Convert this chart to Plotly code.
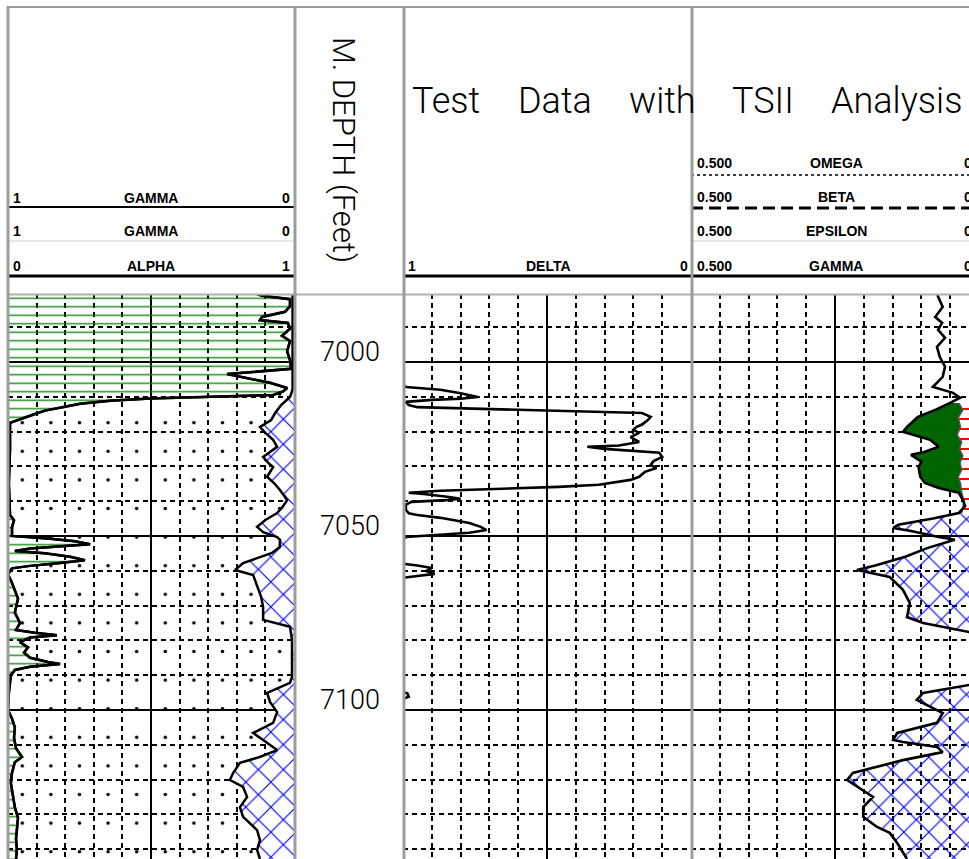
import plotly.graph_objects as go

W, H = 969, 859

depth_range = [6980.5, 7142.8]
depth_ticks = [7000, 7050, 7100]

# Track 1 : GAMMA (scale 1 -> 0, left to right)
gamma1_depth = [6980.5, 6981.0, 6982.0, 6984.0, 6985.6, 6987.1, 6988.0, 6988.8, 6990.5, 6992.5,
                6994.0, 6997.0, 6999.5, 7002.0, 7003.5, 7004.2, 7006.0, 7007.5, 7008.5, 7009.5,
                7010.0, 7010.5, 7011.2, 7012.0, 7012.9, 7014.0, 7015.2, 7016.5, 7017.5, 7025.0,
                7035.0, 7044.0, 7045.5, 7047.5, 7050.0, 7050.8, 7051.5, 7052.4, 7053.0, 7053.6,
                7054.3, 7055.0, 7056.0, 7057.0, 7057.8, 7058.6, 7059.3, 7061.0, 7063.5, 7065.0,
                7068.0, 7072.0, 7075.0, 7077.0, 7077.8, 7078.5, 7079.2, 7080.5, 7082.0, 7083.5,
                7085.0, 7086.2, 7086.8, 7087.6, 7088.5, 7090.0, 7095.0, 7100.0, 7102.5, 7105.0,
                7108.0, 7111.0, 7113.5, 7115.0, 7118.0, 7121.0, 7125.0, 7128.0, 7131.0, 7134.0,
                7137.0, 7140.0, 7142.8]
gamma1 = [0.129, 0.112, 0.014, 0.014, 0.031, 0.112, 0.119, 0.021, 0.014, 0.042,
          0.014, 0.024, 0.014, 0.010, 0.234, 0.189, 0.084, 0.024, 0.038, 0.073,
          0.329, 0.503, 0.643, 0.748, 0.801, 0.871, 0.913, 0.958, 0.993, 0.993,
          0.997, 0.993, 0.979, 0.986, 0.986, 0.853, 0.766, 0.713, 0.818, 0.923,
          0.976, 0.871, 0.783, 0.731, 0.818, 0.923, 0.986, 1.000, 0.986, 0.979,
          0.965, 0.976, 0.958, 0.972, 0.906, 0.829, 0.923, 0.958, 0.930, 0.944,
          0.923, 0.860, 0.818, 0.923, 0.976, 0.990, 0.997, 1.000, 0.986, 0.976,
          0.979, 0.972, 0.951, 0.976, 0.986, 0.990, 0.983, 0.976, 0.965, 0.969,
          0.972, 0.969, 0.972]

# Track 1 : ALPHA (scale 0 -> 1, left to right)
alpha1_depth = [6980.5, 7008.0, 7010.1, 7012.4, 7014.7, 7016.7, 7018.7, 7020.4, 7022.4, 7024.4,
                7027.3, 7029.0, 7030.2, 7033.0, 7034.8, 7036.8, 7039.7, 7041.7, 7043.4, 7045.4,
                7047.4, 7048.9, 7050.3, 7051.1, 7053.2, 7054.9, 7057.8, 7059.8, 7061.2, 7064.7,
                7067.5, 7070.4, 7074.1, 7076.1, 7079.9, 7085.6, 7090.5, 7092.2, 7095.1, 7097.7,
                7100.6, 7103.7, 7106.6, 7108.6, 7111.5, 7113.5, 7115.2, 7118.1, 7120.1, 7122.1,
                7125.0, 7127.9, 7130.7, 7134.5, 7137.4, 7140.2, 7142.8]
alpha1 = [0.995, 0.995, 0.986, 0.955, 0.934, 0.920, 0.881, 0.900, 0.927, 0.941,
          0.892, 0.910, 0.927, 0.906, 0.930, 0.951, 0.976, 0.960, 0.941, 0.900,
          0.871, 0.892, 0.941, 0.951, 0.950, 0.923, 0.822, 0.794, 0.857, 0.874,
          0.885, 0.892, 0.892, 0.986, 0.993, 0.993, 0.993, 0.986, 0.906, 0.916,
          0.941, 0.927, 0.857, 0.892, 0.941, 0.880, 0.811, 0.787, 0.776, 0.822,
          0.836, 0.811, 0.822, 0.871, 0.881, 0.871, 0.881]

# Track 3 : DELTA (scale 1 -> 0)
delta_depth = [6980.5, 7006.5, 7007.2, 7008.0, 7009.0, 7010.1, 7010.6, 7010.9, 7011.5, 7012.4,
               7013.0, 7013.8, 7014.3, 7014.7, 7015.8, 7016.7, 7018.0, 7018.7, 7019.5, 7020.4,
               7021.6, 7023.0, 7024.0, 7024.4, 7025.0, 7025.3, 7026.1, 7027.3, 7028.5, 7029.6,
               7030.5, 7031.6, 7033.0, 7033.9, 7035.3, 7035.9, 7036.5, 7037.0, 7037.6, 7038.0,
               7038.8, 7039.3, 7039.7, 7040.2, 7041.0, 7042.5, 7043.5, 7044.0, 7044.8, 7045.5,
               7046.3, 7047.4, 7048.3, 7049.1, 7049.7, 7050.3, 7051.0, 7058.0, 7058.5, 7059.2,
               7060.1, 7060.9, 7061.5, 7062.0, 7094.8, 7095.2, 7096.2, 7096.8, 7142.8]
delta = [1.00, 1.00, 0.99, 0.87, 0.80, 0.74, 0.80, 0.90, 0.99, 0.98,
         0.95, 0.58, 0.40, 0.17, 0.14, 0.15, 0.17, 0.19, 0.20, 0.18,
         0.21, 0.18, 0.25, 0.36, 0.30, 0.25, 0.11, 0.10, 0.13, 0.14,
         0.12, 0.16, 0.18, 0.21, 0.32, 0.46, 0.66, 0.87, 0.98, 0.92,
         0.84, 0.80, 0.85, 0.97, 0.99, 0.99, 0.98, 0.95, 0.87, 0.82,
         0.77, 0.73, 0.71, 0.77, 0.90, 0.99, 1.00, 1.00, 0.95, 0.90,
         0.92, 0.89, 0.95, 1.00, 1.00, 0.985, 0.98, 1.00, 1.00]

# Track 4 : GAMMA (scale 0.500 -> 0)
gamma4_depth = [6980.5, 6981.3, 6984.2, 6987.1, 6988.8, 6990.8, 6993.1, 6995.7, 6998.6, 7001.4,
                7004.3, 7007.2, 7008.9, 7010.3, 7011.8, 7013.8, 7015.8, 7018.7, 7020.1, 7022.4,
                7024.4, 7025.9, 7026.7, 7028.7, 7030.2, 7033.0, 7034.8, 7036.2, 7037.6, 7039.7,
                7041.4, 7043.4, 7045.0, 7046.8, 7047.7, 7048.5, 7050.3, 7051.1, 7053.5, 7056.0,
                7058.5, 7059.8, 7061.8, 7065.5, 7069.3, 7073.3, 7075.0, 7077.6, 7079.9, 7091.4,
                7092.8, 7095.1, 7097.1, 7099.1, 7100.9, 7103.7, 7106.6, 7108.6, 7109.2, 7110.6,
                7112.1, 7114.4, 7118.1, 7120.1, 7123.0, 7125.0, 7127.9, 7130.7, 7133.6, 7135.3,
                7138.2, 7141.1, 7142.8]
gamma4 = [0.072, 0.071, 0.063, 0.076, 0.064, 0.071, 0.059, 0.073, 0.068, 0.059,
          0.063, 0.080, 0.045, 0.033, 0.050, 0.076, 0.106, 0.125, 0.132, 0.085,
          0.070, 0.095, 0.118, 0.100, 0.105, 0.102, 0.094, 0.070, 0.035, 0.028,
          0.024, 0.035, 0.080, 0.140, 0.149, 0.120, 0.070, 0.042, 0.090, 0.128,
          0.180, 0.212, 0.155, 0.132, 0.120, 0.125, 0.097, 0.017, 0.006, 0.006,
          0.017, 0.097, 0.108, 0.085, 0.063, 0.073, 0.142, 0.149, 0.132, 0.073,
          0.063, 0.132, 0.219, 0.229, 0.201, 0.184, 0.201, 0.201, 0.177, 0.155,
          0.142, 0.132, 0.125]

# Track 4 : EPSILON (scale 0.500 -> 0), visible only in the green interval
epsilon4_depth = [7011.8, 7013.8, 7016.0, 7018.7, 7021.0, 7023.0, 7025.0, 7027.0, 7029.0, 7031.0,
                  7033.0, 7035.0, 7037.6, 7040.0, 7043.4]
epsilon4 = [0.035, 0.028, 0.036, 0.032, 0.038, 0.030, 0.034, 0.028, 0.033, 0.030,
            0.036, 0.032, 0.030, 0.026, 0.030]

green_zone = [7011.8, 7043.4]
hatch_zone = [7043.4, 7142.8]

# ---------------- helpers ----------------
def px(x):
    return x / W


def py(y):
    return 1 - y / H


BLACK = "black"
GRAYB = "#9c9c9c"
NONE = "rgba(0,0,0,0)"
HATCH = dict(shape="x", fgcolor="#0000ff", fgopacity=1, size=17.7, solidity=0.13)

fig = go.Figure()

# ---------- Track 1 ----------
fig.add_trace(go.Scatter(x=[1, 1], y=depth_range, mode="lines", line=dict(width=0),
                         xaxis="x", yaxis="y", hoverinfo="skip", showlegend=False))
fig.add_trace(go.Scatter(x=gamma1, y=gamma1_depth, mode="lines", xaxis="x", yaxis="y",
                         line=dict(color=BLACK, width=2.5), fill="tonextx", fillcolor=NONE,
                         fillpattern=dict(shape="-", fgcolor="#008000", fgopacity=0.85,
                                          bgcolor=NONE, size=8.5, solidity=0.18),
                         hoverinfo="skip", showlegend=False))
alpha_pos = [1 - a for a in alpha1]
fig.add_trace(go.Scatter(x=alpha_pos, y=alpha1_depth, mode="lines", xaxis="x", yaxis="y",
                         line=dict(width=0), fill="tonextx", fillcolor=NONE,
                         fillpattern=dict(shape=".", fgcolor=BLACK, fgopacity=1, bgcolor=NONE,
                                          size=28.6, solidity=0.012),
                         hoverinfo="skip", showlegend=False))
fig.add_trace(go.Scatter(x=alpha_pos, y=alpha1_depth, mode="lines", xaxis="x", yaxis="y",
                         line=dict(color=BLACK, width=2.5), fill="tozerox", fillcolor=NONE,
                         fillpattern=dict(bgcolor="white", **HATCH),
                         hoverinfo="skip", showlegend=False))
# redraw gamma line on top
fig.add_trace(go.Scatter(x=gamma1, y=gamma1_depth, mode="lines", xaxis="x", yaxis="y",
                         line=dict(color=BLACK, width=2.5), hoverinfo="skip", showlegend=False))

# ---------- Track 3 ----------
fig.add_trace(go.Scatter(x=delta, y=delta_depth, mode="lines", xaxis="x2", yaxis="y2",
                         line=dict(color=BLACK, width=2.6), hoverinfo="skip", showlegend=False))

# ---------- Track 4 ----------
fig.add_trace(go.Scatter(x=epsilon4, y=epsilon4_depth, mode="lines", xaxis="x3", yaxis="y3",
                         line=dict(color="#555555", width=1.5), fill="tozerox", fillcolor=NONE,
                         fillpattern=dict(shape="-", fgcolor="#ff0000", fgopacity=1,
                                          bgcolor="white", size=10, solidity=0.2),
                         hoverinfo="skip", showlegend=False))
gz = [(d, v) for d, v in zip(gamma4_depth, gamma4) if green_zone[0] <= d <= green_zone[1]]
fig.add_trace(go.Scatter(x=[v for _, v in gz], y=[d for d, _ in gz], mode="lines",
                         xaxis="x3", yaxis="y3", line=dict(width=0), fill="tonextx",
                         fillcolor="#006400", hoverinfo="skip", showlegend=False))
hz = [(d, v) for d, v in zip(gamma4_depth, gamma4) if hatch_zone[0] <= d <= hatch_zone[1]]
fig.add_trace(go.Scatter(x=[v for _, v in hz], y=[d for d, _ in hz], mode="lines",
                         xaxis="x3", yaxis="y3", line=dict(width=0), fill="tozerox",
                         fillcolor=NONE, fillpattern=dict(bgcolor=NONE, **HATCH),
                         hoverinfo="skip", showlegend=False))
fig.add_trace(go.Scatter(x=gamma4, y=gamma4_depth, mode="lines", xaxis="x3", yaxis="y3",
                         line=dict(color=BLACK, width=2.6), hoverinfo="skip", showlegend=False))

# ---------------- axes ----------------
ydom = [0, py(294)]


def xaxis_cfg(domain, rng, major, minor_vals, anchor):
    return dict(domain=domain, range=rng, anchor=anchor, showticklabels=False, ticks="",
                zeroline=False, showline=False, tickmode="array", tickvals=major,
                showgrid=True, gridcolor=BLACK, gridwidth=2,
                minor=dict(tickmode="array", tickvals=minor_vals, showgrid=True,
                           gridcolor=BLACK, gridwidth=1.7, griddash="5px,4px", ticks=""),
                fixedrange=True)


def yaxis_cfg(anchor, matches=None):
    d = dict(domain=ydom, range=[depth_range[1], depth_range[0]], anchor=anchor,
             showticklabels=False, ticks="", zeroline=False, showline=False,
             tickmode="linear", tick0=7000, dtick=50, showgrid=True, gridcolor=BLACK,
             gridwidth=2,
             minor=dict(tickmode="linear", tick0=7000, dtick=10, showgrid=True,
                        gridcolor=BLACK, gridwidth=1.7, griddash="5px,4px", ticks=""),
             fixedrange=True)
    if matches:
        d["matches"] = matches
    return d


t1_minor = [0.1, 0.2, 0.3, 0.4, 0.6, 0.7, 0.8, 0.9]
t4_minor = [0.05, 0.1, 0.15, 0.2, 0.3, 0.35, 0.4, 0.45]
t4_right = 0.5 - 0.5 * (W - 691) / 288.0

fig.update_layout(
    width=W, height=H, margin=dict(l=0, r=0, t=0, b=0),
    paper_bgcolor="white", plot_bgcolor="white", showlegend=False,
    xaxis=xaxis_cfg([px(8), px(294)], [1, 0], [0.5], t1_minor, "y"),
    yaxis=yaxis_cfg("x"),
    xaxis2=xaxis_cfg([px(403), px(691)], [1, 0], [0.5], t1_minor, "y2"),
    yaxis2=yaxis_cfg("x2", "y"),
    xaxis3=xaxis_cfg([px(691), 1.0], [0.5, t4_right], [0.25], t4_minor, "y3"),
    yaxis3=yaxis_cfg("x3", "y"),
)

# ---------------- shapes (header lines & borders) ----------------
shapes = []


def hline(x0, x1, y, color, width, dash="solid"):
    shapes.append(dict(type="line", xref="paper", yref="paper", x0=px(x0), x1=px(x1),
                       y0=py(y), y1=py(y), line=dict(color=color, width=width, dash=dash),
                       layer="above"))


def vline(x, y0, y1, color, width):
    shapes.append(dict(type="line", xref="paper", yref="paper", x0=px(x), x1=px(x),
                       y0=py(y0), y1=py(y1), line=dict(color=color, width=width),
                       layer="above"))


# track 1 header lines
hline(8, 294, 207, BLACK, 2)
hline(8, 294, 241, "#cfcfcf", 1.2)
hline(8, 294, 276, BLACK, 3)
# track 3 header line
hline(403, 691, 276, BLACK, 3)
# track 4 header lines
hline(691, W, 175, BLACK, 1.5, "dot")
hline(691, W, 208, BLACK, 3, "12px,6px")
hline(691, W, 241, "#cfcfcf", 1.2)
hline(691, W, 276, BLACK, 3)
# borders
hline(7, W, 7, GRAYB, 2)
hline(7, W, 294.5, "#b0b0b0", 2)
for xb in [8, 295, 404, 692]:
    vline(xb, 6, H, GRAYB, 3)

fig.update_layout(shapes=shapes)

# ---------------- annotations ----------------
ann = []
LBL = dict(family="Liberation Sans, Arial, sans-serif", size=14, color=BLACK, weight="bold")


def label(x, y, text, anchor, font=LBL):
    ann.append(dict(x=px(x), y=py(y), xref="paper", yref="paper", text=text, showarrow=False,
                    xanchor=anchor, yanchor="middle", font=font))


# track 1 header
for yrow, lo, name, hi in [(198, "1", "GAMMA", "0"), (231, "1", "GAMMA", "0"),
                           (266, "0", "ALPHA", "1")]:
    label(11, yrow, lo, "left")
    label(151, yrow, name, "center")
    label(292, yrow, hi, "right")
# track 3 header
label(406, 266, "1", "left")
label(548, 266, "DELTA", "center")
label(690, 266, "0", "right")
# track 4 header (right-hand "0" labels are clipped by the page edge, as in the source)
for yrow, name in [(163, "OMEGA"), (197, "BETA"), (231, "EPSILON"), (266, "GAMMA")]:
    label(695, yrow, "0.500", "left")
    label(836, yrow, name, "center")
    label(962, yrow, "0", "left")

TITLE = dict(family="Roboto, Liberation Sans, sans-serif", size=36, color=BLACK, weight=300)
for xc, word in [(446, "Test"), (555, "Data"), (662, "with"), (763, "TSII"), (896, "Analysis")]:
    label(xc, 101, word, "center", TITLE)

# depth track title (rotated)
ann.append(dict(x=px(344), y=py(150), xref="paper", yref="paper", text="M. DEPTH (Feet)",
                showarrow=False, textangle=90, xanchor="center", yanchor="middle",
                font=dict(family="Roboto, Liberation Sans, sans-serif", size=31,
                          color=BLACK, weight=300)))

# depth numbers, placed just above each major depth line
for d in depth_ticks:
    ann.append(dict(x=px(350), y=d, xref="paper", yref="y", text=str(d), showarrow=False,
                    xanchor="center", yanchor="bottom", yshift=-8,
                    font=dict(family="Roboto, Liberation Sans, sans-serif", size=27,
                              color=BLACK, weight=300)))

fig.update_layout(annotations=ann)

fig.write_html("out.html")
